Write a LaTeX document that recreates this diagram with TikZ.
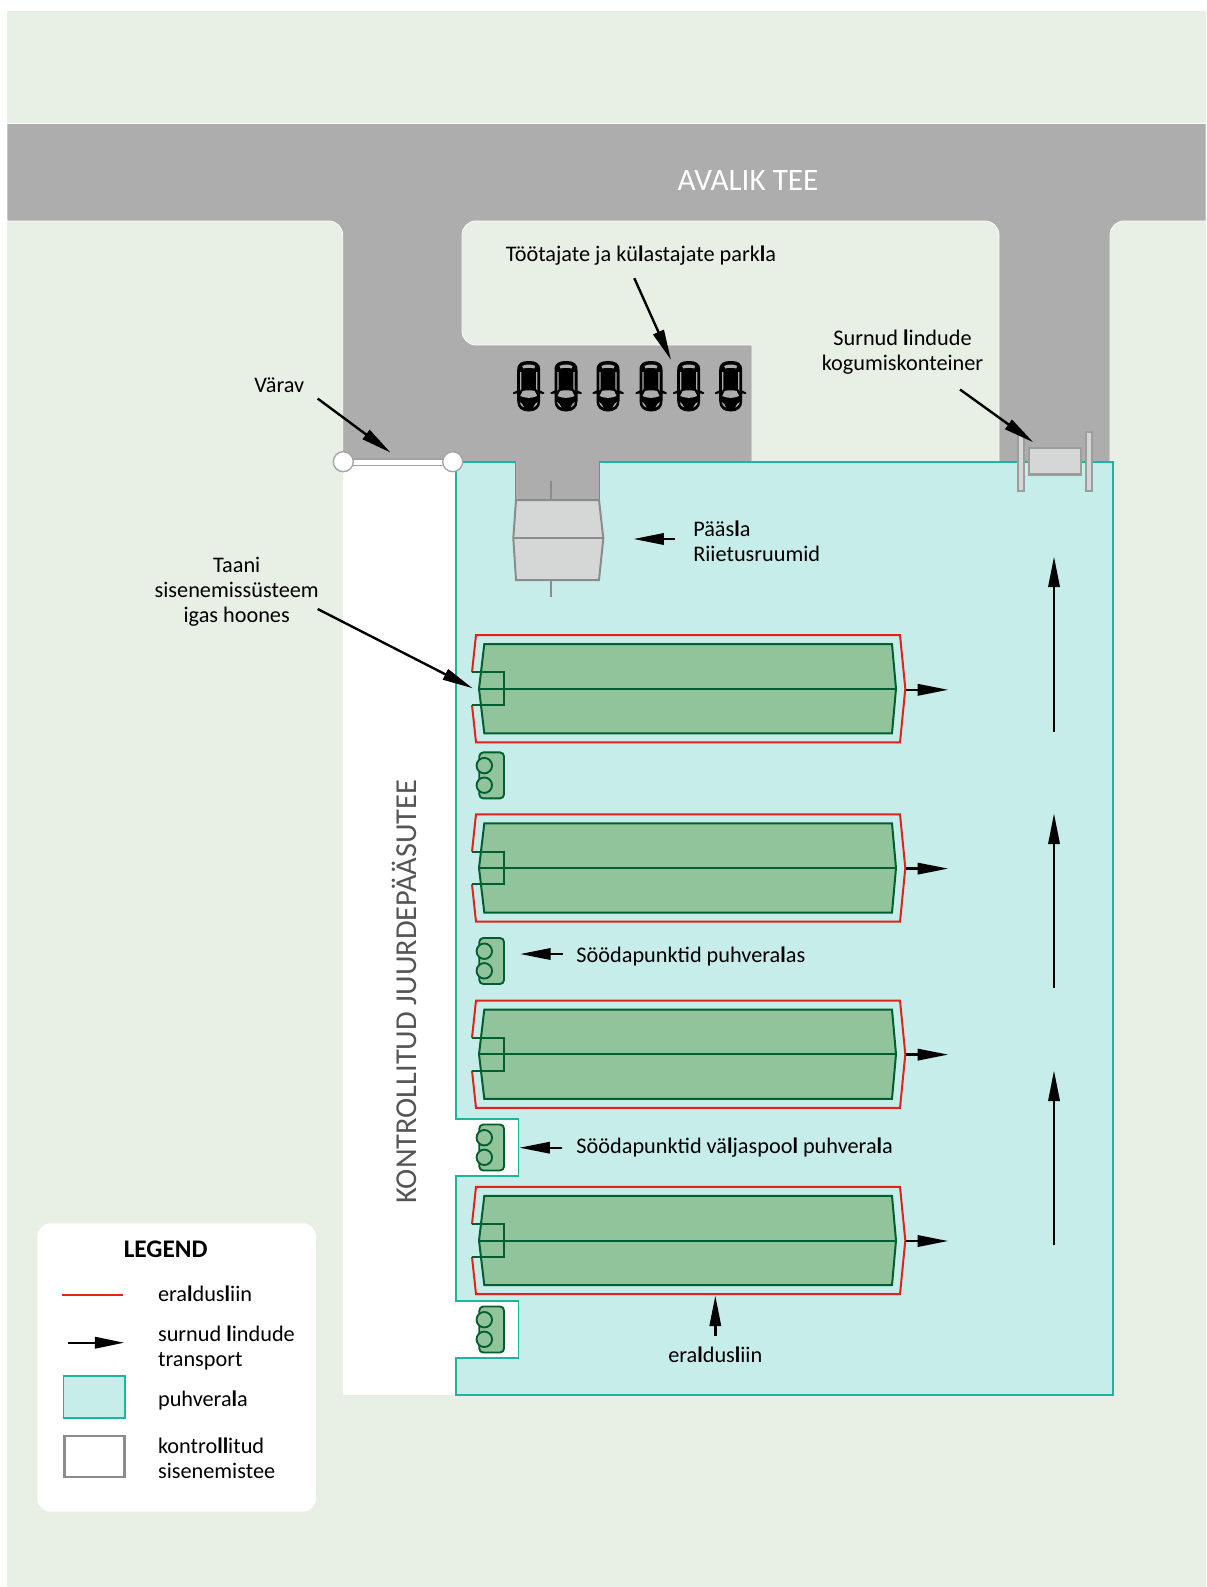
\documentclass[tikz,border=0pt]{standalone}
\usepackage{fontspec}
\setmainfont{Carlito}
\usetikzlibrary{arrows.meta}
\definecolor{bgc}{HTML}{E8F0E6}
\definecolor{roadc}{HTML}{ADADAD}
\definecolor{bufc}{HTML}{C7EDEB}
\definecolor{bufl}{HTML}{1DB5A0}
\definecolor{grn}{HTML}{91C49A}
\definecolor{grnl}{HTML}{005F30}
\definecolor{redl}{HTML}{E2231A}
\definecolor{bldc}{HTML}{D5D7D7}
\definecolor{bldl}{HTML}{8C8C8C}
\definecolor{txtg}{HTML}{555555}
\newcommand\bl{{\bfseries l}}
\newcommand\carat[1]{%
 \begin{scope}[shift={(#1,386)}]
  \fill[black] (-11.5,-16) .. controls (-11.5,-23) and (-7,-25) .. (0,-25)
     .. controls (7,-25) and (11.5,-23) .. (11.5,-16) -- (11.5,4.5) -- (15.5,6.5) -- (15.5,8) -- (11.5,7.5)
     -- (11.5,15) .. controls (11.5,22) and (7,25.5) .. (0,25.5)
     .. controls (-7,25.5) and (-11.5,22) .. (-11.5,15) -- (-11.5,7.5) -- (-15.5,8) -- (-15.5,6.5) -- (-11.5,4.5) -- cycle;
  \fill[roadc] (-6.5,-20) .. controls (-3,-22) and (3,-22) .. (6.5,-20) -- (5.5,-17.5) .. controls (2,-18.5) and (-2,-18.5) .. (-5.5,-17.5) -- cycle;
  \fill[roadc] (-8.6,-14) -- (-7.4,-14) -- (-7.4,3) -- (-8.6,4.5) -- cycle;
  \fill[roadc] (8.6,-14) -- (7.4,-14) -- (7.4,3) -- (8.6,4.5) -- cycle;
  \fill[roadc] (-6,5) .. controls (-2,4) and (2,4) .. (6,5) -- (8.5,10) .. controls (3,12.5) and (-3,12.5) .. (-8.5,10) -- cycle;
  \fill[roadc] (-9,16) .. controls (-8,20) and (-6,21) .. (-4.5,21.5) .. controls (-6,18.5) and (-7,16.5) .. (-9,16) -- cycle;
  \fill[roadc] (9,16) .. controls (8,20) and (6,21) .. (4.5,21.5) .. controls (6,18.5) and (7,16.5) .. (9,16) -- cycle;
 \end{scope}}
\tikzset{
  lab/.style={font=\fontsize{16.7pt}{18.75pt}\selectfont,text=black,inner sep=0pt,align=center,anchor=base},
  labl/.style={lab,align=left,anchor=base west},
  arr/.style={line width=1.8pt,-{Triangle[length=23pt,width=8.5pt]}},
  barnfill/.style={fill=grn,draw=grnl,line width=1.5pt,line join=miter},
  grnline/.style={draw=grnl,line width=1.5pt},
  redline/.style={draw=redl,line width=1.5pt},
  bld/.style={fill=bldc,draw=bldl,line width=1.5pt},
  stub/.style={draw=bldl,line width=1.5pt},
  bufzone/.style={fill=bufc,draw=bufl,line width=1.2pt},
}
\begin{document}
\begin{tikzpicture}[x=0.75pt,y=-0.75pt]
\useasboundingbox (0,0) rectangle (1206,1587);
\fill[white] (0,0) rectangle (1206,1587);
\fill[bgc] (7,11) rectangle (1206,1587);
% road
\filldraw[fill=roadc,draw=white,line width=0.6pt]
  (7,123.4) -- (1206,123.4) -- (1206,221) [rounded corners=10.5pt] -- (1110,221) [sharp corners] -- (1110,461.7)
  -- (999,461.7) [rounded corners=10.5pt] -- (999,221) -- (462,221) -- (462,345) [sharp corners] -- (752,345)
  -- (752,461.7) -- (342.7,461.7) [rounded corners=10.5pt] -- (342.7,221) [sharp corners] -- (7,221) -- cycle;
% controlled access
\fill[white] (342.7,461.7) rectangle (456,1394.7);
\fill[white] (456,1119) rectangle (518.3,1176);
\fill[white] (456,1300.7) rectangle (518.3,1357.7);
% buffer
\path[bufzone] (456,461.7) -- (515.7,461.7) -- (515.7,500) -- (599.3,500) -- (599.3,461.7) -- (1113,461.7) -- (1113,1394.7)
  -- (456,1394.7) -- (456,1357.7) -- (518.3,1357.7) -- (518.3,1300.7) -- (456,1300.7) -- (456,1176)
  -- (518.3,1176) -- (518.3,1119) -- (456,1119) -- cycle;
\fill[roadc] (516.3,459) rectangle (598.7,501);
% gate
\draw[bldl!80,fill=white,line width=1pt] (343,459) rectangle (453,465.7);
\draw[fill=white,draw=bldl!80,line width=1pt] (343.3,461.7) circle[radius=7.5pt];
\draw[fill=white,draw=bldl!80,line width=1pt] (452.7,461.7) circle[radius=7.5pt];
% cars
\foreach \cx in {528.7,566,608,651,688.7,730.7} {\carat{\cx}}
% entrance building
\draw[stub] (550.7,481) -- (550.7,500) (550.7,580) -- (550.7,597);
\draw[bld] (516,500) -- (599,500) -- (603.3,538.3) -- (599,580) -- (516,580) -- (513.3,538.3) -- cycle;
\draw[stub] (513.3,538.3) -- (603.3,538.3);
% container
\draw[fill=bldc,draw=bldl!85,line width=1.5pt] (1017.5,431.5) rectangle (1023.5,491);
\draw[fill=bldc,draw=bldl!85,line width=1.5pt] (1086,431.5) rectangle (1091.5,491);
\draw[fill=bldc,draw=bldl!85,line width=1.8pt] (1028.8,447.8) rectangle (1080.8,474.5);
% barns
\foreach \yc in {688.7,868,1054.2,1240.5} {
 \begin{scope}[shift={(0,\yc)}]
  \draw[redline] (472,-16.4) -- (476,-53.7) -- (900,-53.7) -- (905.3,0) -- (900,53.7) -- (476,53.7) -- (472,16.4);
  \path[barnfill] (484.3,-44.6) -- (892,-44.6) -- (896,0) -- (892,44.6) -- (484.3,44.6) -- (479,0) -- cycle;
  \draw[grnline] (479,0) -- (896,0);
  \draw[grnline] (472,-16.4) -- (504,-16.4) -- (504,16.4) -- (472,16.4);
 \end{scope}
}
% feed points
\foreach \yc in {775.4,961,1147.5,1329.5} {
 \begin{scope}[shift={(0,\yc)}]
  \draw[fill=grn,draw=grnl,line width=1.4pt,rounded corners=3pt] (479.3,-23) rectangle (504,23);
  \draw[fill=grn,draw=grnl,line width=1.4pt] (484.3,-9.8) circle[radius=5.8pt];
  \draw[fill=grn,draw=grnl,line width=1.4pt] (484.3,9.8) circle[radius=5.8pt];
 \end{scope}
}
% legend
\fill[white,rounded corners=10pt] (37.3,1223.3) rectangle (316,1511.7);
\node[lab,font=\fontsize{19pt}{18.75pt}\selectfont\bfseries] (legend) at (165.7,1257.5) {LEGEND};
\coordinate (lr1) at (62,1295); \coordinate (lr2) at (123.3,1295);
\draw[draw=redl,line width=1.2pt] (lr1) -- (lr2);
\node[labl] (le1) at (157.8,1301.7) {era\bl dus\bl iin};
\coordinate (la1) at (68.3,1342.7); \coordinate (la2) at (124.3,1342.7);
\draw[line width=1.8pt,-{Triangle[length=22pt,width=8.5pt]}] (la1) -- (la2);
\node[labl] (le2) at (157.8,1366.7) {surnud \bl indude\\transport};
\node[bufzone,draw,minimum width=46pt,minimum height=31.5pt,inner sep=0pt] (lb) at (94.3,1396.7) {};
\node[labl] (le3) at (157.8,1406.7) {puhvera\bl a};
\node[draw=bldl,fill=white,line width=1.8pt,minimum width=45pt,minimum height=30.5pt,inner sep=0pt] (lc) at (94.3,1456.5) {};
\node[labl] (le4) at (157.8,1478.3) {kontro\bl\bl itud\\sisenemistee};
% labels
\node[lab,text=white,font=\fontsize{23.4pt}{26pt}\selectfont] (road) at (748,191) {AVALIK TEE};
\node[lab,text=txtg,font=\fontsize{22.8pt}{26pt}\selectfont,rotate=90,anchor=center] (access) at (404.7,991.5) {KONTROLLITUD JUURDEPÄÄSUTEE};
\node[lab] (park) at (641,261.5) {Töötajate ja kü\bl astajate park\bl a};
\node[lab] (cont) at (902.5,370) {Surnud \bl indude\\kogumiskonteiner};
\node[lab] (gate) at (279.3,392.5) {Värav};
\node[labl] (ent) at (693,561.7) {Pääs\bl a\\Riietusruumid};
\node[lab] (dan) at (236.7,622) {Taani\\sisenemissüsteem\\igas hoones};
\node[labl] (feed1) at (576.2,962) {Söödapunktid puhvera\bl as};
\node[labl] (feed2) at (576.2,1153) {Söödapunktid vä\bl jaspoo\bl{} puhvera\bl a};
\node[lab] (sep) at (715.3,1362) {era\bl dus\bl iin};
% arrows
\coordinate (g1) at (317.7,398.6); \coordinate (g2) at (390.7,452.7);
\draw[arr] (g1) -- (g2);
\coordinate (p1) at (634.3,278.2); \coordinate (p2) at (671,360);
\draw[arr] (p1) -- (p2);
\coordinate (c1) at (960,389.5); \coordinate (c2) at (1033.3,442.3);
\draw[arr] (c1) -- (c2);
\coordinate (e1) at (675,539); \coordinate (e2) at (633.3,539);
\draw[arr] (e1) -- (e2);
\coordinate (d1) at (317.7,609); \coordinate (d2) at (472.7,688.3);
\draw[arr] (d1) -- (d2);
\foreach \yc in {689.8,868.6,1054.6,1241} {
  \coordinate (ra) at (906,\yc); \coordinate (rb) at (948.3,\yc);
  \draw[arr] (ra) -- (rb);
}
\coordinate (v1a) at (1054,731.5); \coordinate (v1b) at (1054,556.5);
\draw[arr] (v1a) -- (v1b);
\coordinate (v2a) at (1054,988.4); \coordinate (v2b) at (1054,813.4);
\draw[arr] (v2a) -- (v2b);
\coordinate (v3a) at (1054,1245.4); \coordinate (v3b) at (1054,1070.4);
\draw[arr] (v3a) -- (v3b);
\coordinate (f1a) at (562.5,954); \coordinate (f1b) at (520,954);
\draw[arr] (f1a) -- (f1b);
\coordinate (f2a) at (562,1147.7); \coordinate (f2b) at (519.3,1147.7);
\draw[arr] (f2a) -- (f2b);
\coordinate (s1) at (715.3,1335.5); \coordinate (s2) at (715.3,1295.5);
\draw[arr] (s1) -- (s2);
\end{tikzpicture}
\end{document}
